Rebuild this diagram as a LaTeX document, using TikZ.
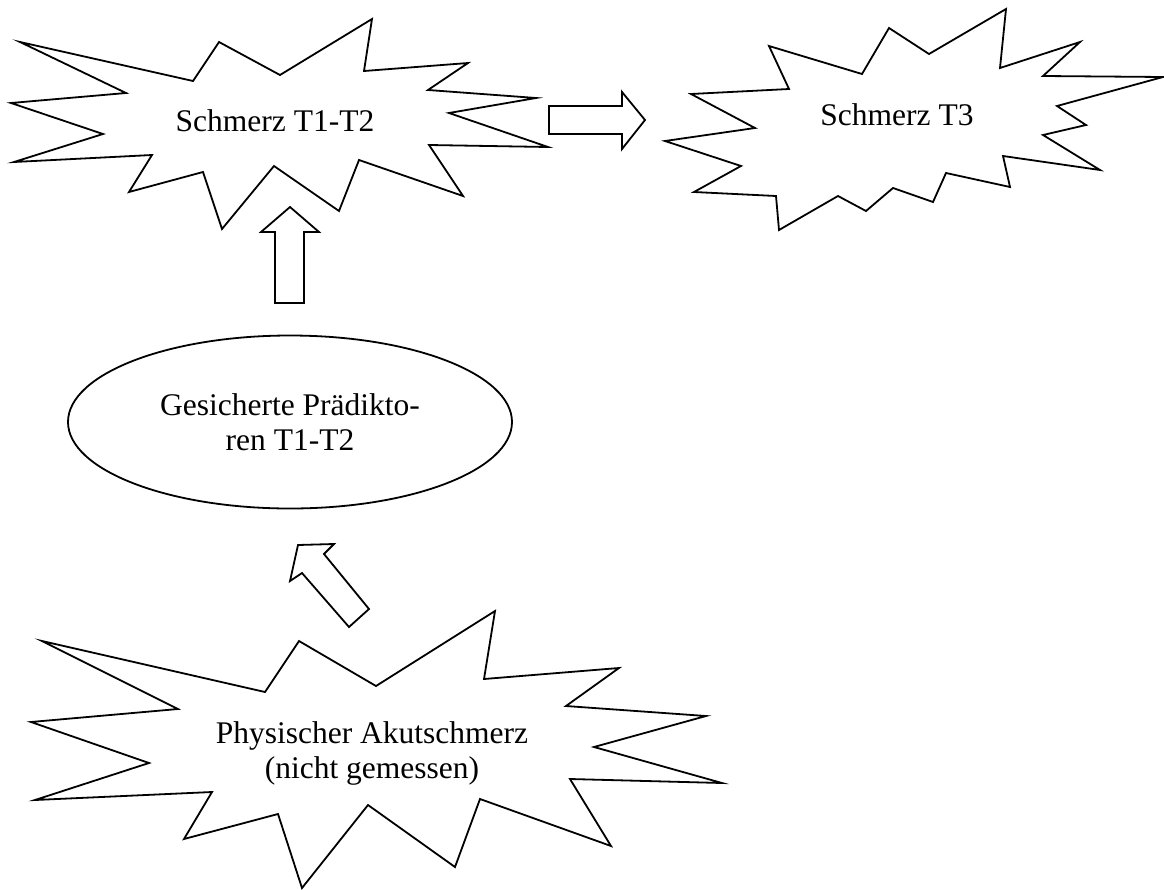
\documentclass[tikz,border=0pt]{standalone}
\usepackage{fontspec}
\setmainfont{Liberation Serif}
\usetikzlibrary{shapes.geometric}
\begin{document}
\begin{tikzpicture}[x=1pt,y=-1pt,
  outline/.style={draw=black, line width=1.8pt, line join=miter, fill=white},
  lbl/.style={inner sep=0pt, anchor=base, font=\fontsize{31.5}{35}\selectfont}]
\useasboundingbox (0,0) rectangle (1164,889);

% Burst: Schmerz T1-T2
\draw[outline] (20,42) -- (193,81) -- (219,42) -- (280,75) -- (372,19) -- (364,71)
  -- (468,63) -- (428,90) -- (536,98) -- (449,113) -- (548,147) -- (429,145)
  -- (463,196) -- (359,160) -- (339,211) -- (274,166) -- (222,229) -- (203,172)
  -- (129,192) -- (152,155) -- (14,162) -- (103,134) -- (11,103) -- (126,93) -- cycle;
\node[lbl] (t12) at (275,131) {Schmerz T1-T2};

% Burst: Schmerz T3
\draw[outline] (769,46) -- (862,74) -- (889,28) -- (929,54) -- (1006,9) -- (1000,68)
  -- (1080,42) -- (1043,76) -- (1163,77) -- (1057,106) -- (1086,125) -- (1043,135)
  -- (1100,170) -- (1003,156) -- (1010,187) -- (946,173) -- (933,202) -- (893,188)
  -- (866,211) -- (838,196) -- (779,230) -- (776,196) -- (694,192) -- (741,166)
  -- (665,141) -- (755,128) -- (691,94) -- (789,89) -- cycle;
\node[lbl] (t3) at (897,125) {Schmerz T3};

% Block arrow T1-T2 -> T3
\draw[outline] (549,106) -- (622,106) -- (622,92) -- (645,120) -- (622,149)
  -- (622,134) -- (549,134) -- cycle;

% Block arrow predictors -> T1-T2
\draw[outline] (275,303) -- (275,232) -- (261,232) -- (290,207) -- (319,232)
  -- (304,232) -- (304,303) -- cycle;

% Predictors ellipse
\node[ellipse, draw=black, line width=1.8pt, fill=white, inner sep=0pt,
  minimum width=444pt, minimum height=173pt] (pred) at (290,422) {};
\node[lbl] (predtext) at (290,415)
  {\begin{tabular}[t]{@{}c@{}}Gesicherte Prädikto-\\ren T1-T2\end{tabular}};

% Block arrow acute pain -> predictors
\draw[outline] (298,545) -- (334,544) -- (324,554) -- (369,609) -- (349,627)
  -- (302,573) -- (290,581) -- cycle;

% Burst: Physischer Akutschmerz
\draw[outline] (42,641) -- (265,692) -- (299,641) -- (376,686) -- (495,611) -- (484,679)
  -- (619,668) -- (566,706) -- (706,716) -- (594,747) -- (722,783) -- (570,779)
  -- (611,846) -- (480,799) -- (455,867) -- (368,805) -- (302,888) -- (278,814)
  -- (184,839) -- (212,792) -- (35,800) -- (149,763) -- (31,722) -- (178,709) -- cycle;
\node[lbl] (akut) at (372,743)
  {\begin{tabular}[t]{@{}c@{}}Physischer Akutschmerz\\(nicht gemessen)\end{tabular}};
\end{tikzpicture}
\end{document}
